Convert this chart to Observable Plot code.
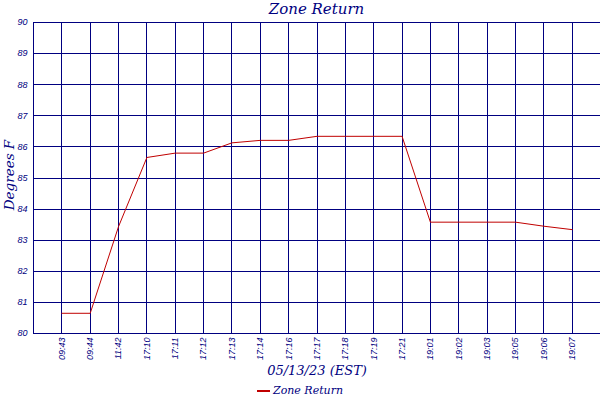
<!DOCTYPE html>
<html>
<head>
<meta charset="utf-8">
<script src="https://cdn.jsdelivr.net/npm/d3@7"></script>
<script src="https://cdn.jsdelivr.net/npm/@observablehq/plot@0.6"></script>
<style>
  body { margin: 0; background: #fff; width: 600px; height: 400px; overflow: hidden; }
  #title { height: 16px; line-height: 18px; padding-left: 33px; text-align: center; font-family: "DejaVu Serif", serif; font-style: italic; font-size: 15px; color: #000080; overflow: visible; }
  #legend { height: 18px; line-height: 18px; text-align: center; font-family: "DejaVu Serif", serif; font-style: italic; font-size: 11px; color: #000080; }
  #legend .sw { display: inline-block; width: 13px; height: 0; border-top: 2px solid #c00000; vertical-align: middle; margin-right: 3px; }
  #chart svg { overflow: visible; }
</style>
</head>
<body>
<div id="title">Zone Return</div>
<div id="chart"></div>
<div id="legend"><span class="sw"></span>Zone Return</div>
<script>
const times = ["09:43", "09:44", "11:42", "17:10", "17:11", "17:12", "17:13", "17:14", "17:16", "17:17", "17:18", "17:19", "17:21", "19:01", "19:02", "19:03", "19:05", "19:06", "19:07"];
const temps = [80.65, 80.65, 83.44, 85.66, 85.8, 85.8, 86.13, 86.21, 86.21, 86.34, 86.34, 86.34, 86.34, 83.58, 83.58, 83.58, 83.58, 83.45, 83.34];
const yTicks = [80, 81, 82, 83, 84, 85, 86, 87, 88, 89, 90];
const seriesName = "Zone Return";
const xTitle = "05/13/23 (EST)";
const yTitle = "Degrees F";

const navy = "#000080";
const red = "#c00000";
const data = times.map((t, i) => ({time: t, temp: temps[i], series: seriesName}));

const chart = Plot.plot({
  width: 600,
  height: 366,
  marginTop: 6,
  marginLeft: 33,
  marginRight: 0,
  marginBottom: 49,
  style: {fontFamily: "Liberation Sans, Arial, sans-serif", fontStyle: "italic", fontSize: "9px", color: navy, background: "white"},
  x: {type: "point", domain: times, padding: 1, round: false},
  y: {domain: [80, 90]},
  marks: [
    Plot.gridY(yTicks, {stroke: navy, strokeOpacity: 1, shapeRendering: "crispEdges"}),
    Plot.gridX(times, {stroke: navy, strokeOpacity: 1, shapeRendering: "crispEdges"}),
    Plot.frame({stroke: navy, shapeRendering: "crispEdges"}),
    Plot.axisY(yTicks, {tickSize: 0, tickPadding: 6, label: null, tickFormat: d => String(d)}),
    Plot.axisX(times, {tickSize: 0, tickPadding: 4, tickRotate: -90, label: null}),
    Plot.line(data, {x: "time", y: "temp", stroke: red, strokeWidth: 1}),
    Plot.text([xTitle], {frameAnchor: "bottom", dy: 37, lineAnchor: "middle", fill: navy, fontFamily: "DejaVu Serif, serif", fontStyle: "italic", fontSize: 13}),
    Plot.text([yTitle], {frameAnchor: "left", dx: -24, dy: -3, rotate: -90, textAnchor: "middle", fill: navy, fontFamily: "DejaVu Serif, serif", fontStyle: "italic", fontSize: 13.5})
  ]
});
document.getElementById("chart").appendChild(chart);
</script>
</body>
</html>
